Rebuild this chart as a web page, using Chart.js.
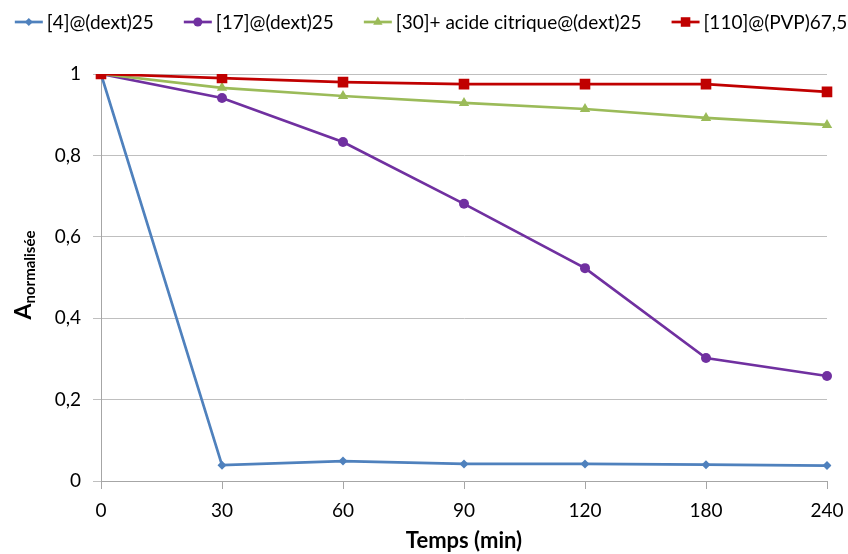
<!DOCTYPE html>
<html><head><meta charset="utf-8">
<script src="https://cdn.jsdelivr.net/npm/chart.js@4"></script>
<style>html,body{margin:0;padding:0;background:#fff}</style>
</head><body>
<canvas id="c" width="848" height="554"></canvas>
<script>
const categories = ['0','30','60','90','120','180','240'];
const yTicks = [0, 0.2, 0.4, 0.6, 0.8, 1];
const seriesNames = ['[4]@(dext)25','[17]@(dext)25','[30]+ acide citrique@(dext)25','[110]@(PVP)67,5'];
const s4 = [1, 0.039, 0.049, 0.042, 0.042, 0.040, 0.038];
const s17 = [1, 0.941, 0.833, 0.681, 0.523, 0.302, 0.258];
const s30 = [1, 0.966, 0.946, 0.929, 0.914, 0.892, 0.875];
const s110 = [1, 0.990, 0.980, 0.975, 0.975, 0.975, 0.956];
const yTitleMain = 'A';
const yTitleSub = 'normalisée';
const xTitle = 'Temps (min)';

const FONT = 'Lato, "Open Sans", sans-serif';
const styles = [
  {color:'#4F81BD', pointStyle:'rectRot', r:4.5, order:3},
  {color:'#7030A0', pointStyle:'circle', r:5, order:2},
  {color:'#9BBB59', pointStyle:'triangle', r:6, order:1},
  {color:'#C00000', pointStyle:'rect', r:7.5, order:0}
];
const dataArr = [s4, s17, s30, s110];

const datasets = dataArr.map((d,i)=>({
  label: seriesNames[i], data: d,
  borderColor: styles[i].color, backgroundColor: styles[i].color,
  pointBackgroundColor: styles[i].color, pointBorderColor: styles[i].color,
  pointStyle: styles[i].pointStyle, pointRadius: styles[i].r, pointBorderWidth: 0,
  borderWidth: 2.7, tension: 0, order: styles[i].order
}));

const deco = {
  id:'deco',
  afterDraw(chart){
    const ctx = chart.ctx;
    ctx.save();
    // legend
    ctx.font = '19px ' + FONT;
    ctx.textBaseline = 'middle';
    const lineW = 28, gapT = 4, gapI = 30;
    let widths = seriesNames.map(n => ctx.measureText(n).width);
    let total = widths.reduce((a,b)=>a+b,0) + seriesNames.length*(lineW+gapT) + gapI*(seriesNames.length-1);
    let x = 431 - total/2;
    const ly = 22;
    seriesNames.forEach((n,i)=>{
      const st = styles[i];
      ctx.strokeStyle = st.color; ctx.lineWidth = 2.7;
      ctx.beginPath(); ctx.moveTo(x, ly); ctx.lineTo(x+lineW, ly); ctx.stroke();
      ctx.fillStyle = st.color;
      Chart.helpers.drawPoint(ctx, {pointStyle: st.pointStyle, radius: st.r*0.9, borderWidth:0}, x+lineW/2, ly);
      ctx.fillStyle = '#000';
      ctx.textAlign = 'left';
      ctx.fillText(n, x+lineW+gapT, ly+1);
      x += lineW + gapT + widths[i] + gapI;
    });
    // y title
    ctx.translate(23, 275);
    ctx.rotate(-Math.PI/2);
    ctx.fillStyle = '#000';
    ctx.textBaseline = 'alphabetic';
    ctx.font = 'bold 23px ' + FONT;
    const wA = ctx.measureText(yTitleMain).width;
    ctx.font = 'bold 15px ' + FONT;
    const wS = ctx.measureText(yTitleSub).width;
    const start = -(wA + wS)/2;
    ctx.font = 'bold 23px ' + FONT;
    ctx.textAlign = 'left';
    ctx.fillText(yTitleMain, start, 8);
    ctx.font = 'bold 15px ' + FONT;
    ctx.fillText(yTitleSub, start + wA, 12);
    ctx.restore();
  }
};

new Chart(document.getElementById('c'), {
  type:'line',
  data:{labels: categories, datasets},
  options:{
    responsive:false, animation:false,
    layout:{padding:{top:74, right:21, left:0, bottom:0}},
    plugins:{legend:{display:false}, tooltip:{enabled:false}},
    scales:{
      x:{
        offset:false,
        grid:{drawOnChartArea:false, drawTicks:true, tickLength:8, color:'#a6a6a6', lineWidth:1},
        border:{color:'#a6a6a6', width:1},
        ticks:{font:{size:19, family:FONT}, color:'#000', padding:10, maxRotation:0},
        title:{display:true, text:xTitle, font:{size:22, weight:'bold', family:FONT}, color:'#000', padding:{top:3,bottom:0}},
        afterFit(s){ s.height = 554 - 481; s.paddingRight = 0; s.paddingLeft = 0; }
      },
      y:{
        min:0, max:1,
        afterBuildTicks(s){ s.ticks = yTicks.map(v=>({value:v})); },
        grid:{color:'#bfbfbf', tickLength:8, lineWidth:1},
        border:{color:'#a6a6a6', width:1},
        ticks:{font:{size:19, family:FONT}, color:'#000', padding:12,
          callback:(v)=>String(Math.round(v*10)/10).replace('.',',')},
        afterFit(s){ s.width = 101; s.paddingTop = 0; s.paddingBottom = 0; }
      }
    }
  },
  plugins:[deco]
});
</script>
</body></html>
